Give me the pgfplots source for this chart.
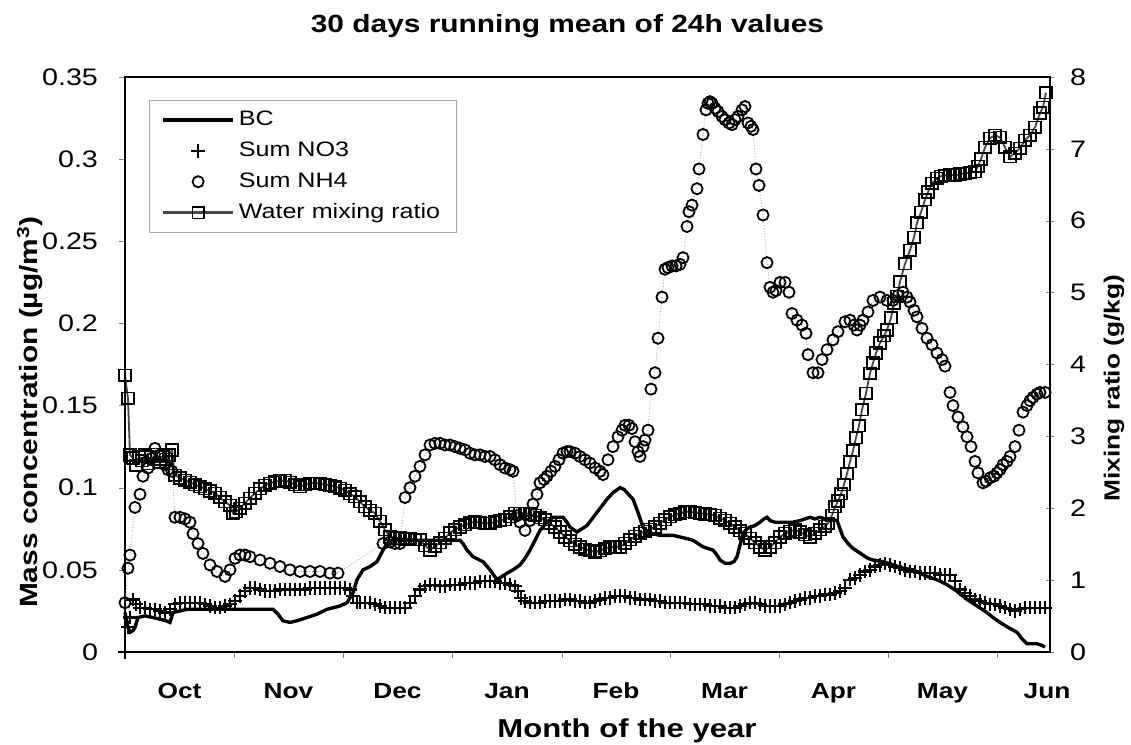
\documentclass[border=0pt]{standalone}
\usepackage{fontspec}
\setmainfont{Liberation Sans}[FakeStretch=1.2]
\usepackage{pgfplots}
\usepackage{pgfplotstable}
\pgfplotsset{compat=1.18}

\pgfplotstableread{
x y
125 3.85
128 3.53
130 2.74
133 2.70
136 2.60
139 2.72
142 2.66
145 2.74
148 2.62
151 2.72
154 2.68
157 2.75
160 2.64
163 2.72
166 2.68
169 2.74
172 2.81
175 2.46
180 2.42
185 2.39
190 2.36
195 2.33
200 2.30
205 2.27
210 2.24
215 2.21
220 2.15
225 2.09
230 2.04
233 1.93
236 1.95
240 2.00
245 2.07
250 2.14
255 2.21
260 2.27
265 2.32
270 2.35
275 2.37
280 2.38
285 2.39
290 2.36
295 2.33
300 2.30
305 2.33
310 2.35
315 2.35
320 2.34
325 2.33
330 2.32
335 2.30
340 2.28
345 2.25
350 2.20
355 2.16
360 2.09
365 2.02
370 1.97
375 1.93
380 1.82
385 1.70
390 1.60
395 1.58
400 1.59
405 1.57
410 1.58
415 1.56
420 1.56
425 1.48
430 1.42
435 1.47
440 1.52
445 1.58
450 1.66
455 1.70
460 1.74
465 1.77
470 1.80
475 1.81
480 1.80
485 1.79
490 1.79
495 1.81
500 1.83
505 1.84
510 1.88
515 1.93
520 1.93
525 1.93
530 1.92
535 1.90
540 1.87
545 1.84
550 1.79
555 1.74
560 1.67
565 1.60
570 1.55
575 1.50
580 1.46
585 1.43
590 1.41
595 1.39
600 1.41
605 1.44
610 1.46
615 1.46
620 1.46
625 1.51
630 1.56
635 1.61
640 1.65
645 1.68
650 1.71
655 1.74
660 1.79
665 1.84
670 1.88
675 1.91
680 1.93
685 1.95
690 1.95
695 1.94
700 1.93
705 1.92
710 1.91
715 1.90
720 1.86
725 1.83
730 1.79
735 1.74
740 1.69
745 1.65
750 1.58
755 1.52
760 1.46
765 1.42
770 1.46
775 1.52
780 1.60
785 1.65
790 1.68
795 1.70
800 1.67
805 1.63
810 1.60
815 1.65
820 1.70
825 1.75
828 1.79
832 1.90
835 2.02
838 2.10
841 2.20
844 2.33
847 2.48
850 2.65
853 2.80
856 2.98
859 3.15
862 3.37
866 3.60
870 3.88
873 4.02
876 4.16
880 4.30
884 4.40
887 4.48
891 4.65
894 4.85
897 4.95
900 5.15
905 5.40
910 5.59
914 5.77
917 5.97
921 6.12
925 6.29
928 6.40
932 6.52
937 6.59
941 6.62
945 6.63
950 6.64
955 6.63
960 6.65
965 6.66
970 6.67
975 6.68
978 6.76
981 6.86
985 7.02
990 7.15
995 7.19
1000 7.16
1005 7.02
1010 6.89
1015 6.94
1020 7.01
1025 7.12
1030 7.19
1035 7.30
1040 7.50
1043 7.58
1046 7.78
}\water

\pgfplotstableread{
x y
125 0.030
128 0.051
130 0.059
135 0.088
140 0.096
143 0.107
148 0.112
152 0.118
155 0.124
160 0.120
165 0.114
168 0.111
172 0.110
175 0.082
180 0.082
185 0.081
190 0.079
193 0.072
198 0.066
203 0.060
210 0.053
217 0.049
225 0.046
230 0.050
235 0.057
240 0.059
245 0.059
250 0.058
260 0.056
270 0.054
280 0.052
290 0.050
300 0.049
310 0.049
320 0.049
330 0.048
338 0.048
383 0.066
390 0.067
395 0.066
400 0.066
405 0.094
410 0.100
415 0.107
420 0.113
425 0.120
430 0.126
435 0.127
440 0.127
445 0.126
450 0.126
455 0.125
460 0.124
465 0.123
470 0.121
475 0.120
480 0.120
485 0.119
490 0.119
495 0.117
500 0.114
505 0.112
510 0.111
513 0.110
517 0.083
520 0.079
525 0.074
530 0.080
533 0.090
537 0.096
540 0.103
544 0.105
547 0.107
551 0.110
555 0.113
559 0.117
563 0.121
567 0.122
570 0.122
575 0.121
580 0.119
585 0.117
590 0.115
595 0.112
600 0.110
603 0.108
608 0.117
613 0.125
618 0.131
622 0.135
625 0.138
629 0.138
632 0.136
635 0.128
638 0.122
640 0.119
643 0.125
645 0.129
648 0.135
651 0.160
655 0.170
658 0.191
662 0.216
665 0.233
668 0.234
672 0.235
676 0.235
680 0.236
683 0.240
687 0.259
689 0.268
692 0.272
697 0.282
699 0.294
703 0.315
706 0.330
708 0.334
710 0.335
712 0.334
715 0.331
718 0.329
722 0.326
725 0.324
729 0.322
732 0.321
735 0.324
738 0.326
742 0.330
745 0.332
748 0.322
751 0.320
753 0.318
756 0.294
759 0.284
763 0.266
767 0.237
770 0.222
773 0.219
776 0.220
780 0.225
785 0.225
789 0.219
792 0.206
797 0.202
802 0.199
806 0.194
808 0.181
813 0.170
818 0.170
822 0.178
827 0.184
833 0.190
838 0.195
845 0.201
850 0.202
854 0.199
857 0.196
860 0.199
863 0.202
868 0.207
873 0.214
880 0.216
887 0.214
893 0.214
898 0.217
903 0.219
907 0.216
910 0.213
914 0.208
917 0.204
922 0.197
927 0.191
932 0.187
937 0.182
942 0.178
945 0.174
950 0.158
953 0.150
958 0.143
963 0.137
967 0.131
971 0.125
975 0.116
978 0.109
983 0.103
986 0.104
990 0.106
994 0.107
997 0.109
1000 0.111
1003 0.114
1007 0.116
1010 0.119
1015 0.125
1019 0.135
1023 0.146
1027 0.150
1030 0.153
1033 0.155
1037 0.157
1040 0.158
1045 0.158
}\nhf

\pgfplotstableread{
x y
125 0.024
128 0.015
130 0.012
133 0.013
135 0.015
138 0.021
145 0.022
153 0.021
160 0.020
166 0.019
170 0.018
173 0.024
180 0.025
187 0.026
200 0.026
220 0.026
240 0.026
260 0.026
273 0.026
278 0.023
283 0.019
290 0.018
297 0.019
307 0.021
317 0.023
327 0.026
340 0.028
347 0.030
350 0.033
353 0.036
357 0.044
363 0.050
370 0.052
377 0.055
383 0.062
387 0.066
393 0.068
410 0.068
430 0.068
445 0.068
460 0.068
463 0.066
467 0.062
473 0.058
483 0.055
490 0.050
497 0.044
502 0.046
507 0.048
513 0.050
520 0.053
525 0.057
530 0.062
535 0.068
540 0.074
547 0.079
553 0.082
558 0.082
563 0.082
567 0.079
570 0.076
577 0.073
582 0.075
587 0.077
592 0.081
597 0.085
602 0.089
607 0.093
613 0.097
620 0.100
624 0.099
627 0.097
630 0.095
633 0.093
638 0.085
643 0.076
648 0.073
653 0.072
660 0.071
667 0.071
673 0.071
680 0.070
687 0.069
693 0.068
698 0.066
703 0.064
708 0.063
713 0.062
717 0.059
720 0.056
725 0.054
730 0.054
734 0.055
737 0.058
740 0.065
743 0.072
747 0.075
750 0.076
755 0.077
760 0.079
764 0.081
767 0.082
770 0.080
775 0.079
780 0.079
785 0.079
793 0.079
800 0.080
810 0.082
815 0.081
820 0.082
825 0.081
830 0.081
837 0.080
840 0.075
843 0.070
848 0.066
853 0.063
858 0.061
863 0.059
868 0.057
873 0.056
883 0.055
893 0.053
903 0.051
913 0.050
920 0.048
927 0.046
937 0.044
947 0.041
957 0.037
967 0.032
977 0.028
987 0.024
993 0.021
1000 0.018
1008 0.015
1017 0.012
1022 0.008
1027 0.005
1032 0.005
1037 0.005
1042 0.004
1045 0.003
}\bc

\pgfplotstableread{
x y
125 0.000
128 0.015
130 0.021
133 0.032
136 0.029
140 0.027
145 0.027
150 0.026
155 0.026
160 0.025
165 0.024
170 0.026
175 0.029
180 0.030
185 0.030
190 0.030
195 0.030
200 0.030
205 0.029
210 0.028
215 0.027
220 0.027
225 0.028
230 0.029
235 0.031
240 0.034
245 0.037
250 0.039
255 0.039
260 0.038
265 0.037
270 0.037
275 0.037
280 0.038
285 0.038
290 0.038
295 0.038
300 0.038
305 0.038
310 0.039
315 0.039
320 0.039
325 0.039
330 0.039
335 0.039
340 0.039
345 0.039
350 0.038
353 0.034
357 0.030
360 0.030
365 0.030
370 0.030
375 0.029
380 0.028
385 0.027
390 0.027
395 0.027
400 0.027
405 0.027
410 0.030
415 0.034
420 0.038
425 0.040
430 0.041
435 0.041
440 0.040
445 0.040
450 0.041
455 0.041
460 0.041
465 0.042
470 0.042
475 0.042
480 0.043
485 0.043
490 0.043
495 0.043
500 0.042
505 0.042
510 0.041
515 0.040
518 0.037
521 0.033
525 0.031
530 0.030
535 0.030
540 0.030
545 0.031
550 0.031
555 0.031
560 0.031
565 0.032
570 0.032
575 0.031
580 0.031
585 0.030
590 0.030
595 0.031
600 0.032
605 0.033
610 0.033
615 0.034
620 0.034
625 0.034
630 0.033
635 0.033
640 0.032
645 0.032
650 0.032
655 0.031
660 0.031
665 0.030
670 0.030
675 0.030
680 0.030
685 0.030
690 0.029
695 0.029
700 0.029
705 0.029
710 0.028
715 0.028
720 0.028
725 0.027
730 0.027
735 0.027
740 0.028
745 0.029
750 0.030
755 0.030
760 0.029
765 0.028
770 0.028
775 0.028
780 0.028
785 0.029
790 0.030
795 0.031
800 0.032
805 0.033
810 0.033
815 0.034
820 0.034
825 0.035
830 0.035
835 0.036
840 0.037
845 0.039
850 0.044
855 0.045
860 0.047
865 0.049
870 0.050
875 0.052
880 0.053
885 0.054
890 0.053
895 0.052
900 0.051
905 0.050
910 0.049
915 0.049
920 0.048
925 0.048
930 0.048
935 0.048
940 0.047
945 0.047
950 0.047
955 0.043
960 0.038
965 0.036
970 0.034
975 0.032
980 0.031
985 0.030
990 0.029
995 0.029
1000 0.028
1005 0.027
1010 0.026
1015 0.025
1020 0.026
1025 0.027
1030 0.027
1035 0.027
1040 0.027
1045 0.027
}\nothree

\newcommand\tickfont{\fontsize{12}{14}\selectfont}
\newcommand\monthfont{\fontsize{11}{13}\selectfont\bfseries}
\newcommand\labfont{\fontsize{12.5}{15}\selectfont\bfseries}

\pgfplotsset{
  common/.style={
    scale only axis, width=462.5bp, height=287.5bp,
    at={(0,0)}, anchor=south west,
    xmin=125, xmax=1050, clip=false,
    /pgf/number format/assume math mode=true,
    ticklabel style={font=\tickfont},
  },
}

\begin{document}
\begin{tikzpicture}
\path[use as bounding box] (-62.5bp,-46.5bp) rectangle (503bp,326bp);

% right axis: water mixing ratio
\begin{axis}[common,
  axis x line=none, axis y line*=right,
  ymin=0, ymax=8, ytick={0,1,...,8},
  tick align=center, major tick length=4bp,
  yticklabel style={xshift=4.5bp},
  axis line style={line width=0.7pt},
]
\addplot[gray!55!black, line width=0.9pt, mark=square, mark size=2.9pt,
  mark options={solid, draw=black, fill=white, line width=0.8pt}] table {\water};
\end{axis}

% left axis
\begin{axis}[common,
  ymin=0, ymax=0.35,
  ytick={0,0.05,0.1,0.15,0.2,0.25,0.3,0.35},
  yticklabels={0,0.05,0.1,0.15,0.2,0.25,0.3,0.35},
  ytick pos=left, xtick pos=bottom,
  tick align=outside, major tick length=3bp,
  xtick={234,343,452,562,670,779,888,997},
  xticklabels={,,,,,,,},
  extra x ticks={179.5,288.5,397.5,507,616,724.5,833.5,942.5,1047},
  extra x tick labels={Oct,Nov,Dec,Jan,Feb,Mar,Apr,May,Jun},
  extra x tick style={major tick length=0pt, xticklabel style={font=\monthfont, yshift=-12bp}},
  yticklabel style={xshift=-7bp},
  axis line style={line width=0.7pt},
  legend cell align=left,
  legend style={at={(rel axis cs:0.026,0.96)}, anchor=north west,
    draw=gray!70, line width=0.4pt, fill=white,
    font=\fontsize{10.5}{12}\selectfont, row sep=2.6bp,
    inner xsep=6bp, inner ysep=3.5bp},
  legend image code/.code={\draw[mark repeat=2,mark phase=2] plot coordinates {(0bp,0bp) (17.5bp,0bp) (35bp,0bp)};},
]
\addplot[gray!80, line width=0.4pt, densely dotted, forget plot] table {\nhf};
\addplot[black, line width=1.7pt] table {\bc};
\addlegendentry{BC}
\addplot[only marks, mark=+, mark size=3.4pt, mark options={line width=1.1pt}, black] table {\nothree};
\addlegendentry{Sum NO3}
\addplot[only marks, mark=o, mark size=2.8pt, mark options={line width=0.9pt}, black] table {\nhf};
\addlegendentry{Sum NH4}
\addlegendimage{gray!55!black, line width=1.6pt, mark=square, mark size=2.9pt,
  mark options={solid, draw=black, fill=white, line width=0.8pt}}
\addlegendentry{Water mixing ratio}
\end{axis}

\node[font=\fontsize{12.5}{15}\selectfont\bfseries] at (221.25bp,313bp) {30 days running mean of 24h values};
\node[font=\fontsize{13}{15}\selectfont\bfseries] at (251bp,-39.5bp) {Month of the year};
\node[font=\labfont, rotate=90] at (-47.5bp,120bp) {Mass concentration (\textmu g/m\textsuperscript{3})};
\node[font=\fontsize{11}{13}\selectfont\bfseries, rotate=90] at (494.5bp,132bp) {Mixing ratio (g/kg)};
\end{tikzpicture}
\end{document}
